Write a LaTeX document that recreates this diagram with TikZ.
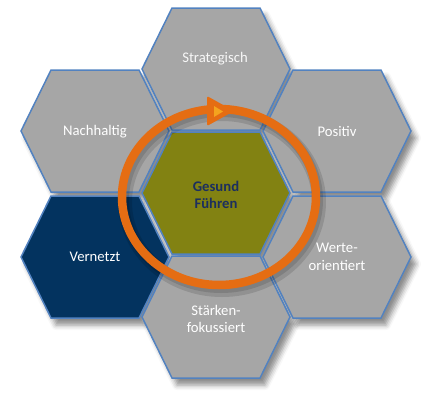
\documentclass[tikz,border=0pt]{standalone}
\usepackage{fontspec}
\setmainfont{Carlito}
\usetikzlibrary{shadows.blur}
\definecolor{hexgray}{HTML}{A6A6A6}
\definecolor{hexblue}{HTML}{5282C0}
\definecolor{hexolive}{HTML}{828212}
\definecolor{hexnavy}{HTML}{03335F}
\definecolor{ringorange}{HTML}{E56D13}
\definecolor{arrowyellow}{HTML}{F4A41E}
\definecolor{centertext}{HTML}{1C2F5E}
\begin{document}
\begin{tikzpicture}[x=1pt,y=-1pt,
  hexlabel/.style={text=white,align=center,font=\fontsize{14.7}{17.5}\selectfont},
  hexline/.style={draw=hexblue,line width=1.5pt},
  ring/.style={draw=ringorange,line width=8.5pt}]
  \useasboundingbox (0,0) rectangle (434,405);
  \foreach \x/\y in {216/69,95/131,337/131,216/193,95/257,337/257,216/317}
    \fill[hexgray,blur shadow={shadow xshift=5pt,shadow yshift=-7pt,shadow blur radius=5pt,shadow opacity=45}]
      (\x-74,\y) -- (\x-44,\y-61) -- (\x+44,\y-61) -- (\x+74,\y) -- (\x+44,\y+61) -- (\x-44,\y+61) -- cycle;
  \foreach \x/\y/\c in {216/69/hexgray,95/131/hexgray,337/131/hexgray,216/193/hexolive,
      95/257/hexnavy,337/257/hexgray,216/317/hexgray}
    \filldraw[fill=\c,hexline]
      (\x-74,\y) -- (\x-44,\y-61) -- (\x+44,\y-61) -- (\x+74,\y) -- (\x+44,\y+61) -- (\x-44,\y+61) -- cycle;
  \node[hexlabel,text=white!94!gray] (strategisch) at (215,59) {Strategisch};
  \node[hexlabel] (nachhaltig) at (95,132) {Nachhaltig};
  \node[hexlabel] (positiv) at (337,131) {Positiv};
  \node[hexlabel,text=centertext,font=\bfseries\fontsize{14.7}{17.5}\selectfont] (gesund) at (216,195) {Gesund\\Führen};
  \node[hexlabel] (vernetzt) at (95,257) {Vernetzt};
  \node[hexlabel] (werte) at (337,257) {Werte-\\orientiert};
  \node[hexlabel] (staerken) at (216,319) {Stärken-\\fokussiert};
  \draw[black,opacity=0.12,line width=14pt] (222,202) ellipse [x radius=97,y radius=88];
  \draw[black,opacity=0.12,line width=10pt] (221,200) ellipse [x radius=97,y radius=88];
  \draw[ring] (219,197) ellipse [x radius=97,y radius=88];
  \fill[ringorange,rounded corners=2pt] (207,96) -- (234,111) -- (207,126) -- cycle;
  \fill[arrowyellow] (214,106) -- (223,111.5) -- (214,117) -- cycle;
\end{tikzpicture}
\end{document}
